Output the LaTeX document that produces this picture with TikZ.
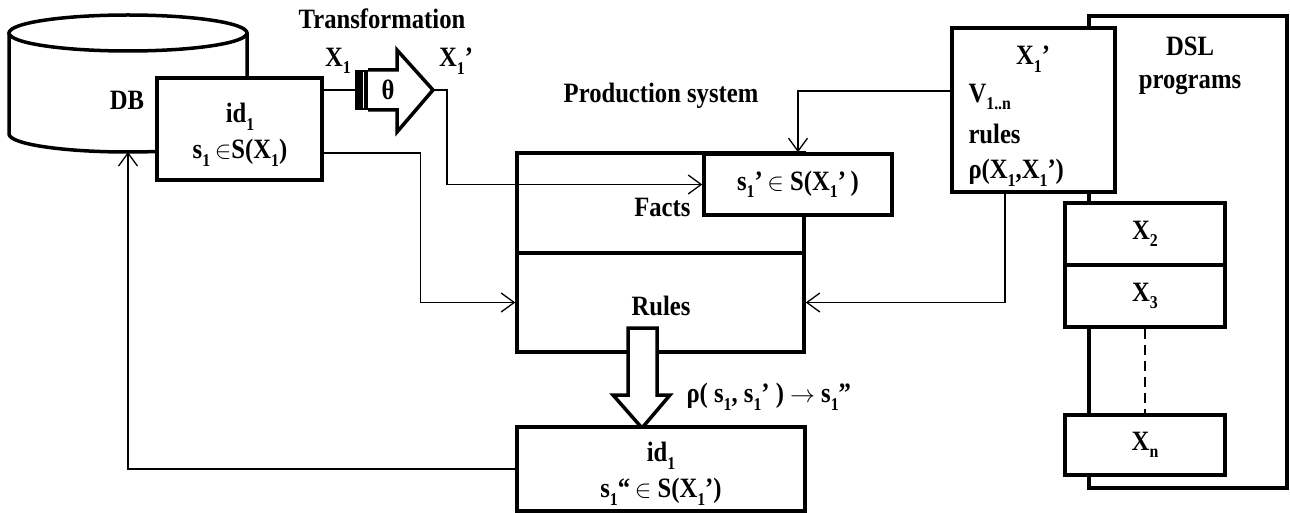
\documentclass[tikz,border=0pt]{standalone}
\usepackage{fontspec}
\setmainfont{Liberation Serif}[FakeStretch=0.88]
\usetikzlibrary{arrows.meta}
\newcommand{\dn}[1]{\raisebox{-0.27em}{\fontsize{18}{18}\selectfont #1}}

\begin{document}
\begin{tikzpicture}[x=1pt,y=1pt,
  font=\fontsize{28}{30}\selectfont\bfseries,
  box/.style={draw,line width=3.5pt,fill=white,inner sep=0pt},
  wire/.style={line width=1.3pt},
  link/.style={wire,-{Straight Barb[length=13pt,width=19pt,line width=1.3pt]}}]
  \useasboundingbox (0,0) rectangle (1290,-513);

  % database
  \draw[line width=3.5pt] (9,-33) -- (9,-134)
    arc[start angle=180,end angle=360,x radius=119,y radius=18] -- (247,-33);
  \draw[line width=3.5pt] (128,-33) ellipse[x radius=119,y radius=18];
  \coordinate (db) at (128,-152);
  \node at (127,-100) {DB};
  \node[box,minimum width=165,minimum height=102] (src) at (239.5,-129) {};
  \node at (240,-117) {id\dn{1}};
  \node at (240,-153) {s\dn{1}\,$\in$S(X\dn{1})};

  % transformation theta
  \node[fill=black,minimum width=13,minimum height=40,inner sep=0] (bar) at (361.5,-90) {};
  \draw[white,line width=0.8pt] (363,-72) -- (363,-108);
  \draw[line width=3.5pt] (368,-70) -- (397,-70) -- (397,-50) -- (433,-90)
    -- (397,-132) -- (397,-110) -- (368,-110);
  \coordinate (tip) at (433,-90);
  \node at (388,-90) {θ};
  \node at (382,-19) {Transformation};
  \node at (338,-61) {X\dn{1}};
  \node at (456,-61) {X\dn{1}’};

  % production system
  \node at (661,-96) {Production system};
  \node[box,minimum width=287,minimum height=100] (facts) at (660.5,-203) {};
  \node[box,minimum width=287,minimum height=99] (rules) at (660.5,-302.5) {};
  \node at (661,-306) {Rules};
  \node[anchor=east] at (694,-207) {Facts};
  \node[box,minimum width=188,minimum height=61] (fact) at (798,-184.5)
    {s\dn{1}’\,$\in$ S(X\dn{1}’\,)};
  \draw[line width=3.5pt,fill=white] (628,-328) -- (657,-328) -- (657,-395) -- (670,-395)
    -- (642,-428) -- (613,-395) -- (628,-395) -- cycle;
  \node[anchor=west] at (683,-397) {ρ( s\dn{1}, s\dn{1}’ ) $\rightarrow$ s\dn{1}”};
  \node[box,minimum width=288,minimum height=84] (res) at (661,-469) {};
  \node at (661,-456) {id\dn{1}};
  \node at (661,-492) {s\dn{1}“\,$\in$ S(X\dn{1}’)};

  % DSL programs
  \node[box,minimum width=198,minimum height=472] (dsl) at (1188,-252) {};
  \node at (1190,-46) {DSL};
  \node at (1190,-84) {programs};
  \node[box,minimum width=163,minimum height=164] (prog) at (1033.5,-110) {};
  \node at (1033,-59) {X\dn{1}’};
  \node[anchor=west] at (965,-97) {V\dn{1..n}};
  \node[anchor=west] at (965,-134) {rules};
  \node[anchor=west] at (965,-173) {ρ(X\dn{1},X\dn{1}’)};
  \foreach \n/\y/\h in {2/234/62,3/296/62,n/445/60}
    \node[box,minimum width=160,minimum height=\h] (x\n) at (1145,-\y) {X\dn{\n}};
  \draw[wire,dash pattern=on 10pt off 6pt] (x3.south) -- (xn.north);

  % connectors
  \draw[wire] (src.east |- bar) -- (bar.west);
  \draw[link] (tip) -- ++(14,0) |- (fact.west);
  \draw[link] ([yshift=19]prog.west) -| (fact.north);
  \draw[link] ([xshift=-28.5]prog.south) |- (rules.east);
  \draw[link] ([yshift=-24]src.east) -- ++(97,0) |- (rules.west);
  \draw[link] (res.west) -| (db);
\end{tikzpicture}
\end{document}
